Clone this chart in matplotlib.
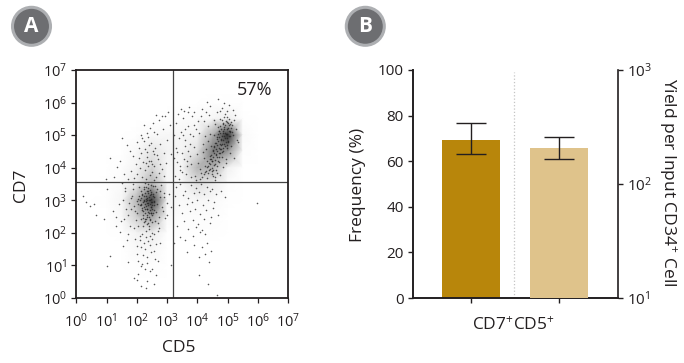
import matplotlib
matplotlib.use("Agg")
import matplotlib.pyplot as plt
import numpy as np
from matplotlib.patches import Circle

plt.rcParams['font.family'] = ['Open Sans', 'DejaVu Sans']
plt.rcParams['mathtext.fontset'] = 'custom'
plt.rcParams['mathtext.rm'] = 'Open Sans'
plt.rcParams['mathtext.default'] = 'regular'

# panel A, darkness of the dots estimated per half decade (rows are CD7 7 -> 0)
density_cd5 = [0, .5, 1, 1.5, 2, 2.5, 3, 3.5, 4, 4.5, 5, 5.5, 6, 6.5, 7]
density_cd7 = [7, 6.5, 6, 5.5, 5, 4.5, 4, 3.5, 3, 2.5, 2, 1.5, 1, .5, 0]
density = [
    [0, 0, 0, 0, 0, 0, 0, 0, 0, 0, 0, 0, 0, 0, 0],
    [0, 0, 0, 0, 0, 0, 0, 0, 0, 0, 0, 0, 0, 0, 0],
    [0, 0, 0, 0, 0, 0, 0, 0, 0, 1, 1, 0, 0, 0, 0],
    [0, 0, 0, 0, 0, 0, 1, 3, 4, 8, 14, 1, 0, 0, 0],
    [0, 0, 0, 0, 1, 5, 7, 8, 10, 42, 85, 4, 0, 0, 0],
    [0, 0, 0, 0, 6, 18, 10, 9, 22, 60, 50, 2, 0, 0, 0],
    [0, 0, 0, 2, 10, 28, 8, 9, 40, 42, 12, 0, 0, 0, 0],
    [0, 0, 1, 4, 18, 40, 8, 7, 22, 14, 2, 0, 0, 0, 0],
    [0, 0, 1, 8, 40, 82, 8, 4, 7, 5, 1, 0, 0, 0, 0],
    [0, 0, 0, 6, 30, 48, 5, 2, 3, 3, 0, 0, 0, 0, 0],
    [0, 0, 0, 1, 10, 15, 1, 1, 1, 1, 0, 0, 0, 0, 0],
    [0, 0, 0, 0, 5, 7, 0, 0, 0, 0, 0, 0, 0, 0, 0],
    [0, 0, 0, 0, 1, 2, 0, 0, 0, 0, 0, 0, 0, 0, 0],
    [0, 0, 0, 0, 0, 0, 0, 0, 0, 0, 0, 0, 0, 0, 0],
    [0, 0, 0, 0, 0, 0, 0, 0, 0, 0, 0, 0, 0, 0, 0],
]

# panel A, dots as log10 values
upper_x = [4.72, 4.85, 4.93, 5.02, 5.11, 4.78, 4.66, 4.89, 4.97, 5.08, 4.55, 4.61, 4.74, 4.83, 5.0,
           5.15, 5.22, 4.44, 4.5, 4.69, 4.8, 4.91, 5.05, 4.35, 4.42, 4.57, 4.7, 4.86, 4.98, 4.25,
           4.31, 4.47, 4.6, 4.75, 4.15, 4.22, 4.38, 4.52, 4.65, 4.08, 4.18, 4.3, 4.45, 4.58, 4.02,
           4.12, 4.27, 4.4, 3.98, 4.1, 4.24, 4.37, 5.28, 5.31, 5.18, 5.25, 5.12, 4.95, 4.82, 4.63,
           4.76, 4.88, 5.04, 4.94, 5.07, 4.84, 4.73, 4.59, 4.49, 4.34, 4.21, 4.05, 3.92, 4.16, 4.33,
           5.35, 5.2, 4.99, 4.68, 4.41, 3.88, 3.95, 4.11, 4.28, 4.54, 4.79, 5.09, 5.17, 4.9, 4.64,
           4.36, 4.19, 4.03, 4.48, 4.71, 4.96, 5.13, 4.87, 4.56, 4.26]
upper_y = [5.12, 5.35, 5.02, 5.22, 5.41, 4.88, 4.95, 4.72, 5.55, 4.96, 4.66, 4.42, 4.58, 5.08, 4.8,
           5.1, 5.48, 4.28, 4.51, 5.26, 4.34, 5.66, 5.3, 4.05, 4.36, 4.12, 4.18, 4.52, 4.6, 3.86,
           4.22, 3.98, 4.76, 5.5, 3.72, 4.3, 3.92, 3.75, 3.84, 3.95, 4.48, 3.68, 4.68, 5.34, 4.14,
           3.84, 4.58, 5.02, 4.42, 3.66, 4.96, 5.62, 5.2, 4.84, 5.78, 5.62, 4.66, 4.26, 5.84, 5.7,
           5.75, 5.98, 5.92, 4.14, 4.44, 4.02, 3.78, 3.62, 3.9, 5.28, 5.42, 5.08, 3.76, 5.8, 6.02,
           4.78, 4.3, 5.74, 6.12, 5.9, 4.64, 5.2, 5.6, 5.72, 5.48, 4.7, 5.14, 5.0, 4.9, 4.32,
           4.82, 4.74, 5.44, 4.2, 4.44, 5.4, 5.3, 5.18, 5.0, 4.06]
upper_core_x = [4.81, 4.88, 4.95, 5.03, 4.76, 4.84, 4.92, 5.0, 5.07, 4.7, 4.79, 4.87, 4.96, 5.04, 5.12,
                4.67, 4.75, 4.83, 4.91, 4.99, 5.06, 4.63, 4.72, 4.8, 4.89, 4.97, 5.05, 4.59, 4.68, 4.77,
                4.86, 4.94, 5.02, 4.55, 4.65, 4.74, 4.82, 4.9, 4.98, 4.51, 4.6, 4.71, 4.78, 4.85, 4.46,
                4.56, 4.66, 4.73, 4.81, 4.42, 4.53, 4.62, 4.7, 4.39, 4.49, 4.58, 4.67, 4.33, 4.43, 4.54,
                4.64, 4.29, 4.4, 4.5, 4.61, 4.23, 4.36, 4.47, 4.57]
upper_core_y = [5.48, 5.56, 5.42, 5.5, 5.28, 5.36, 5.3, 5.38, 5.34, 5.14, 5.2, 5.24, 5.18, 5.14, 5.22,
                5.02, 5.06, 5.12, 5.08, 5.04, 5.1, 4.88, 4.94, 4.98, 4.96, 4.9, 4.98, 4.76, 4.82, 4.86,
                4.84, 4.78, 4.82, 4.64, 4.7, 4.74, 4.72, 4.68, 4.7, 4.54, 4.58, 4.62, 4.56, 4.6, 4.4,
                4.46, 4.5, 4.44, 4.48, 4.26, 4.34, 4.38, 4.32, 4.14, 4.22, 4.24, 4.2, 4.02, 4.1, 4.08,
                4.06, 3.9, 3.96, 3.94, 3.92, 3.8, 3.84, 3.82, 3.72]
middle_x = [3.28, 3.36, 3.45, 3.52, 3.6, 3.68, 3.75, 3.82, 3.9, 3.3, 3.4, 3.48, 3.58, 3.66, 3.74,
            3.85, 3.33, 3.42, 3.55, 3.62, 3.7, 3.8, 3.26, 3.38, 3.5, 3.64, 3.78, 3.95, 3.24, 3.46,
            3.56, 3.72, 3.88, 3.34, 3.44, 3.6, 3.76, 3.22, 3.52, 3.68]
middle_y = [5.38, 5.66, 5.1, 5.52, 4.86, 5.28, 5.04, 5.6, 5.32, 4.62, 4.9, 4.44, 4.68, 4.22, 4.72,
            4.98, 4.18, 3.94, 4.28, 3.82, 4.5, 4.12, 3.76, 3.64, 3.86, 4.04, 3.72, 3.62, 5.0, 5.8,
            5.74, 5.86, 5.72, 4.48, 4.06, 5.2, 4.36, 4.3, 5.0, 5.7]
wisp_x = [2.3, 2.42, 2.55, 2.18, 2.28, 2.38, 2.5, 2.62, 2.72, 2.1, 2.2, 2.34, 2.46, 2.58, 2.7,
          2.82, 2.02, 2.14, 2.26, 2.4, 2.52, 2.66, 2.78, 1.92, 2.06, 2.24, 2.36, 2.48, 2.6, 2.76,
          2.9, 1.82, 1.98, 2.12, 2.32, 2.44, 2.56, 2.68, 2.86, 3.0, 1.72, 1.88, 2.08, 2.22, 2.54,
          2.74, 2.94, 3.08, 1.58, 1.78, 2.0, 2.16, 2.64, 2.84, 3.04, 1.45, 1.68, 1.25, 1.35, 0.98,
          1.12, 1.52, 2.96, 3.12, 2.88, 2.57, 2.33, 2.41, 2.29, 2.49]
wisp_y = [3.66, 3.78, 3.62, 3.72, 3.92, 4.06, 3.88, 3.7, 3.84, 3.98, 4.18, 4.32, 4.22, 4.04, 4.26,
          3.96, 3.82, 4.44, 4.58, 4.7, 4.5, 4.38, 4.12, 3.68, 4.3, 4.82, 4.94, 4.76, 4.6, 4.74,
          4.46, 3.9, 4.12, 5.0, 5.08, 5.22, 5.1, 5.02, 5.18, 4.86, 3.64, 4.36, 4.6, 5.3, 5.38,
          5.46, 5.6, 5.3, 3.8, 4.52, 4.78, 4.92, 5.62, 5.58, 5.7, 4.2, 4.7, 3.7, 4.02, 3.66,
          4.3, 4.9, 4.14, 4.42, 3.74, 4.42, 4.48, 4.2, 4.14, 4.1]
lower_x = [2.3, 2.38, 2.45, 2.22, 2.28, 2.35, 2.42, 2.5, 2.58, 2.15, 2.25, 2.32, 2.4, 2.48, 2.55,
           2.62, 2.08, 2.18, 2.27, 2.37, 2.47, 2.52, 2.68, 2.0, 2.12, 2.2, 2.34, 2.44, 2.6, 2.75,
           1.92, 2.05, 2.16, 2.26, 2.36, 2.46, 2.56, 2.66, 2.82, 1.85, 1.95, 2.1, 2.24, 2.33, 2.43,
           2.53, 2.72, 2.9, 1.75, 1.88, 2.02, 2.14, 2.31, 2.41, 2.51, 2.64, 2.78, 3.0, 1.65, 1.8,
           1.97, 2.06, 2.19, 2.29, 2.39, 2.49, 2.59, 2.7, 2.86, 3.06, 1.55, 1.72, 1.9, 2.04, 2.17,
           2.3, 2.44, 2.57, 2.74, 2.94, 3.12, 1.48, 1.62, 1.78, 1.94, 2.11, 2.23, 2.36, 2.5, 2.63,
           2.8, 1.4, 1.58, 1.7, 1.86, 2.01, 2.13, 2.27, 2.42, 2.55, 2.69, 2.88, 1.3, 1.5, 1.66,
           1.82, 1.99, 2.09, 2.21, 2.35, 2.47, 2.61, 2.76, 2.98, 1.2, 1.44, 1.6, 2.03, 2.15, 2.32]
lower_y = [3.05, 2.92, 3.18, 2.98, 3.22, 2.74, 3.32, 2.86, 3.1, 2.88, 3.42, 3.0, 2.62, 3.48, 2.96,
           3.26, 3.12, 2.7, 3.52, 3.38, 2.78, 3.2, 2.9, 2.98, 3.3, 2.56, 2.48, 3.02, 3.44, 3.1,
           2.82, 3.04, 3.16, 2.42, 3.5, 2.6, 2.7, 3.36, 2.8, 3.14, 2.66, 2.84, 2.34, 2.28, 2.4,
           3.44, 2.5, 3.22, 2.92, 3.34, 2.6, 2.44, 3.4, 2.2, 2.32, 2.64, 3.3, 2.92, 2.74, 3.08,
           2.4, 3.4, 2.22, 2.06, 2.12, 2.0, 2.36, 2.3, 2.68, 3.2, 3.0, 2.56, 2.14, 2.2, 1.96,
           1.86, 1.9, 1.98, 2.14, 2.46, 2.78, 2.36, 3.28, 2.2, 1.82, 1.78, 1.7, 1.74, 1.8, 1.66,
           3.46, 2.9, 2.44, 1.98, 3.5, 1.6, 1.56, 1.5, 1.62, 1.44, 2.06, 3.1, 2.5, 3.52, 1.78,
           2.72, 1.36, 1.9, 1.32, 1.26, 1.42, 1.2, 1.7, 2.54, 2.66, 2.04, 3.38, 1.14, 0.98, 1.06]
lower_core_x = [2.36, 2.43, 2.29, 2.34, 2.41, 2.48, 2.24, 2.31, 2.39, 2.46, 2.53, 2.19, 2.27, 2.35, 2.44,
                2.51, 2.13, 2.22, 2.3, 2.38, 2.47, 2.55, 2.09, 2.17, 2.26, 2.33, 2.42, 2.5, 2.04, 2.12,
                2.21, 2.28, 2.37, 2.45, 2.57, 2.16, 2.25, 2.32, 2.4, 2.49, 2.2, 2.3, 2.38, 2.46, 2.23,
                2.34, 2.44, 2.28, 2.36, 2.52]
lower_core_y = [3.22, 3.16, 3.12, 3.06, 3.1, 3.04, 3.02, 2.98, 3.0, 2.96, 3.12, 2.94, 2.9, 2.92, 2.88,
                2.94, 2.84, 2.8, 2.82, 2.84, 2.78, 2.86, 3.02, 2.76, 2.74, 2.72, 2.7, 2.74, 2.9, 3.08,
                2.66, 2.62, 2.64, 2.6, 2.98, 3.2, 3.14, 2.56, 2.5, 2.54, 2.46, 2.44, 3.28, 3.24, 3.36,
                3.3, 2.42, 2.36, 2.3, 2.62]
right_x = [3.3, 3.44, 3.6, 3.78, 3.95, 4.12, 4.3, 4.48, 3.25, 3.52, 3.7, 3.88, 4.05, 4.22, 4.4,
           4.6, 4.78, 3.38, 3.64, 3.82, 4.0, 4.18, 4.36, 4.55, 4.9, 3.48, 3.74, 3.92, 4.1, 4.28,
           4.5, 3.56, 3.86, 4.02, 4.2, 4.44, 4.68, 3.34, 3.68, 3.96, 4.08, 4.26, 3.42, 3.58, 3.84,
           4.16, 4.42, 3.9, 4.14, 4.32, 4.46, 3.66, 4.06, 4.24, 4.38, 4.04, 4.34, 3.22]
right_y = [3.4, 3.5, 3.3, 3.46, 3.38, 3.5, 3.42, 3.36, 3.12, 3.16, 3.08, 3.22, 3.24, 3.18, 3.28,
           3.2, 3.3, 2.86, 2.9, 2.96, 3.02, 2.84, 3.0, 2.94, 3.1, 2.6, 2.66, 2.72, 2.58, 2.7,
           2.76, 2.36, 2.4, 2.28, 2.44, 2.5, 2.56, 2.2, 2.12, 2.18, 2.02, 1.98, 1.86, 1.78, 1.9,
           2.1, 2.3, 1.62, 1.58, 1.7, 1.44, 1.42, 1.26, 1.36, 1.1, 0.72, 0.42, 1.7]
stray_x = [0.22, 0.32, 0.45, 0.58, 0.66, 1.0, 1.12, 1.02, 1.55, 1.7, 2.02, 2.14, 2.3, 2.42, 2.5,
           2.56, 2.05, 2.18, 1.9, 2.33, 2.62, 4.66, 5.98, 1.3, 0.9, 3.12, 2.7, 2.28]
stray_y = [3.12, 2.95, 2.82, 2.9, 2.55, 3.35, 1.28, 0.98, 1.6, 1.1, 0.55, 0.36, 0.3, 0.82, 0.88,
           0.42, 0.75, 1.04, 0.62, 0.52, 0.7, 0.1, 2.92, 2.2, 2.44, 1.0, 1.14, 0.9]

cd5_gate = 10 ** 3.2
cd7_gate = 10 ** 3.57
decades = [1, 10, 100, 1000, 10000, 100000, 1000000, 10000000]
decade_labels = ['$10^{%d}$' % i for i in range(8)]

# panel B
sample_x = [0, 1]
freq_mean, freq_low, freq_high = 69.4, 63, 76.6
yield_mean, yield_low, yield_high = 205, 165, 257
freq_ticks = [0, 20, 40, 60, 80, 100]
yield_ticks = [10, 100, 1000]
yield_labels = ['$10^{1}$', '$10^{2}$', '$10^{3}$']

W, H = 684, 363
fig = plt.figure(figsize=(W / 100, H / 100), dpi=100)


def axes_px(left, top, right, bottom):
    return fig.add_axes([left / W, 1 - bottom / H, (right - left) / W, (bottom - top) / H])


ink = '#231f20'

# panel A
ax = axes_px(76.3, 70, 288.3, 298)
ax.set_xscale('log')
ax.set_yscale('log')
ax.set_xlim(1, 1e7)
ax.set_ylim(1, 1e7)
ax.pcolormesh(10.0 ** np.array(density_cd5), 10.0 ** np.array(density_cd7), np.array(density),
              shading='gouraud', cmap='Greys', vmin=0, vmax=100, rasterized=True)
for xs, ys in [(upper_x, upper_y), (upper_core_x, upper_core_y), (middle_x, middle_y),
               (wisp_x, wisp_y), (lower_x, lower_y), (lower_core_x, lower_core_y),
               (right_x, right_y), (stray_x, stray_y)]:
    ax.scatter(10.0 ** np.array(xs), 10.0 ** np.array(ys), s=1.3, color='#222222',
               linewidths=0, alpha=0.75)
ax.axvline(cd5_gate, color='#444444', lw=0.9)
ax.axhline(cd7_gate, color='#444444', lw=0.9)
ax.set_xticks(decades)
ax.set_xticklabels(decade_labels)
ax.set_yticks(decades)
ax.set_yticklabels(decade_labels)
ax.minorticks_off()
ax.tick_params(length=3.5, width=0.9, color=ink, labelcolor=ink, labelsize=10.5, pad=3)
ax.tick_params(axis='x', pad=7)
for s in ax.spines.values():
    s.set_linewidth(1.3)
    s.set_color(ink)
ax.text(0.84, 0.912, '57%', transform=ax.transAxes, ha='center', va='center',
        fontsize=13, color=ink)

# panel B, the pale bar belongs to the log axis on the right
ax2 = axes_px(412.7, 70, 617.7, 298)
ax2.bar(sample_x[0], freq_mean, width=0.66, color='#b8860b')
ax2.errorbar(sample_x[0], freq_mean, yerr=[[freq_mean - freq_low], [freq_high - freq_mean]],
             color=ink, lw=1, capsize=10.5, capthick=1)
ax2.axvline(0.48, color='#c4c4c4', lw=0.9, ls=':', ymax=0.99, zorder=0)
ax2.set_xlim(-0.666, 1.664)
ax2.set_ylim(0, 100)
ax2.set_yticks(freq_ticks)
ax2.set_xticks(sample_x)
ax2.set_xticklabels([])
ax2.spines['top'].set_visible(False)
ax2.spines['right'].set_visible(False)
for s in ['left', 'bottom']:
    ax2.spines[s].set_linewidth(1.4)
    ax2.spines[s].set_color(ink)
ax2.tick_params(length=3.5, width=1, color=ink, labelcolor=ink, labelsize=11, pad=3)

ax3 = ax2.twinx()
ax3.set_yscale('log')
ax3.bar(sample_x[1], yield_mean - 10, width=0.66, color='#dfc38b', bottom=10)
ax3.errorbar(sample_x[1], yield_mean, yerr=[[yield_mean - yield_low], [yield_high - yield_mean]],
             color=ink, lw=1, capsize=10.5, capthick=1)
ax3.set_ylim(10, 1000)
ax3.set_yticks(yield_ticks)
ax3.set_yticklabels(yield_labels)
ax3.minorticks_off()
ax3.spines['top'].set_visible(False)
ax3.spines['left'].set_visible(False)
ax3.spines['bottom'].set_visible(False)
ax3.spines['right'].set_linewidth(1.2)
ax3.spines['right'].set_color(ink)
ax3.tick_params(length=3.5, width=1, color=ink, labelcolor=ink, labelsize=11, pad=3)

# labels and badges, placed in pixels
over = fig.add_axes([0, 0, 1, 1])
over.set_xlim(0, W)
over.set_ylim(H, 0)
over.axis('off')
over.patch.set_alpha(0)
label_font = dict(fontsize=12.5, color=ink, ha='center', va='center')
over.text(20.5, 185, 'CD7', rotation=90, **label_font)
over.text(179, 348, 'CD5', **label_font)
over.text(358, 184.5, 'Frequency (%)', rotation=90, **label_font)
over.text(668, 182, 'Yield per Input CD34$^{+}$ Cell', rotation=270, **label_font)
over.text(513, 325, 'CD7$^{+}$CD5$^{+}$', **label_font)
for cx, letter in [(31.5, 'A'), (365.3, 'B')]:
    over.add_patch(Circle((cx, 26.3), 19, fc='#6d6e71', ec='#adafb2', lw=2.2))
    over.text(cx, 26.5, letter, color='white', fontsize=15, fontweight='bold',
              ha='center', va='center')

fig.savefig('out.png', dpi=100)
